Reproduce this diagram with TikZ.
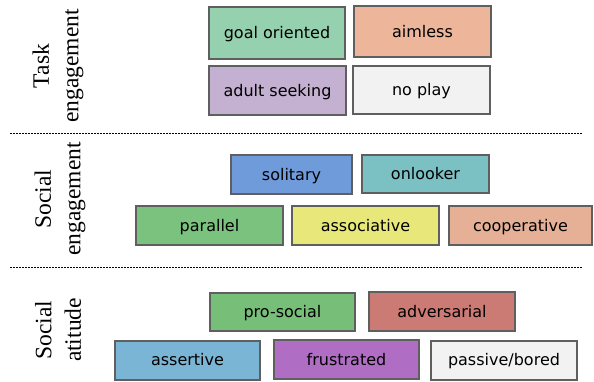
\documentclass[tikz,border=0pt]{standalone}
\usepackage{fontspec}
\setmainfont{Liberation Serif}
\newfontfamily\boxfont{DejaVu Sans}
\definecolor{cgoal}{RGB}{149,209,174}
\definecolor{caim}{RGB}{237,181,154}
\definecolor{cadult}{RGB}{196,176,208}
\definecolor{cnone}{RGB}{242,242,242}
\definecolor{csol}{RGB}{111,155,219}
\definecolor{conl}{RGB}{123,192,195}
\definecolor{cpar}{RGB}{122,194,126}
\definecolor{cass}{RGB}{232,232,122}
\definecolor{ccoop}{RGB}{229,176,150}
\definecolor{cpro}{RGB}{119,190,121}
\definecolor{cadv}{RGB}{204,122,116}
\definecolor{casr}{RGB}{122,181,213}
\definecolor{cfru}{RGB}{175,109,196}
\definecolor{cedge}{RGB}{95,95,95}
\tikzset{
  box/.style={draw=cedge, line width=2pt, inner sep=0pt, outer sep=0pt,
    text height=13pt, text depth=2pt,
    font=\boxfont\fontsize{16}{19}\selectfont, text=black},
  seclabel/.style={rotate=90, align=center, inner sep=0pt,
    font=\fontsize{23.5}{29.5}\selectfont},
  sep/.style={line width=0.8pt, dash pattern=on 1.5pt off 1.5pt, black}
}
\begin{document}
\begin{tikzpicture}[x=1pt,y=-1pt]
\useasboundingbox (0,0) rectangle (594,381);
% section labels
\node[seclabel] (l1) at (58,66) {Task\\engagement};
\node[seclabel] (l2) at (60,199) {Social\\engagement};
\node[seclabel] (l3) at (58,330) {Social\\atitude};
% separators
\coordinate (s1a) at (10,133.5); \coordinate (s1b) at (582,133.5);
\coordinate (s2a) at (10,267);   \coordinate (s2b) at (582,267);
\draw[sep] (s1a) -- (s1b);
\draw[sep] (s2a) -- (s2b);
% task engagement
\node[box, fill=cgoal, minimum width=136pt, minimum height=52pt] (goal) at (277,32.5) {goal oriented};
\node[box, fill=caim, minimum width=137pt, minimum height=51pt] (aim) at (422.5,31.5) {aimless};
\node[box, fill=cadult, minimum width=137pt, minimum height=49pt] (adult) at (277.5,90.5) {adult seeking};
\node[box, fill=cnone, minimum width=137pt, minimum height=48pt] (noplay) at (421.5,90) {no play};
% social engagement
\node[box, fill=csol, minimum width=121pt, minimum height=39pt] (sol) at (291.5,174.5) {solitary};
\node[box, fill=conl, minimum width=127pt, minimum height=38pt] (onl) at (425.5,174) {onlooker};
\node[box, fill=cpar, minimum width=147pt, minimum height=39pt] (par) at (209.5,225.5) {parallel};
\node[box, fill=cass, minimum width=147pt, minimum height=39pt] (ass) at (365.5,225.5) {associative};
\node[box, fill=ccoop, minimum width=143pt, minimum height=39pt] (coop) at (520.5,225.5) {cooperative};
% social attitude
\node[box, fill=cpro, minimum width=145pt, minimum height=38pt] (pro) at (282.5,312) {pro-social};
\node[box, fill=cadv, minimum width=146pt, minimum height=39pt] (adv) at (442,311.5) {adversarial};
\node[box, fill=casr, minimum width=145pt, minimum height=39pt] (asr) at (187.5,360) {assertive};
\node[box, fill=cfru, minimum width=145pt, minimum height=39pt] (fru) at (346.5,359.5) {frustrated};
\node[box, fill=cnone, minimum width=146pt, minimum height=39pt] (pas) at (504,360) {passive/bored};
\end{tikzpicture}
\end{document}
